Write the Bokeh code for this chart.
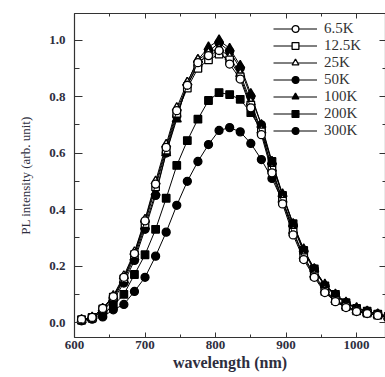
from bokeh.plotting import figure
from bokeh.models import Range1d, LinearAxis, SingleIntervalTicker, Legend, LegendItem, NumeralTickFormatter, ColumnDataSource
from bokeh.embed import file_html
from bokeh.resources import INLINE

wavelength = [610, 625, 640, 655, 670, 685, 700, 715, 730, 745, 760, 775, 790, 805, 820,
              835, 850, 865, 880, 895, 910, 925, 940, 955, 970, 985, 1000, 1015, 1030, 1045]

pl_6_5K = [0.011, 0.018, 0.05, 0.092, 0.16, 0.244, 0.36, 0.49, 0.62, 0.75, 0.84, 0.92, 0.945, 0.963, 0.915,
           0.862, 0.76, 0.665, 0.53, 0.42, 0.31, 0.223, 0.16, 0.106, 0.074, 0.053, 0.039, 0.032, 0.025, 0.018]
pl_12_5K = [0.01, 0.018, 0.048, 0.09, 0.155, 0.24, 0.35, 0.48, 0.61, 0.74, 0.83, 0.9, 0.93, 0.95, 0.93,
            0.87, 0.77, 0.675, 0.54, 0.43, 0.32, 0.23, 0.165, 0.11, 0.078, 0.056, 0.041, 0.033, 0.026, 0.019]
pl_25K = [0.01, 0.019, 0.05, 0.095, 0.165, 0.25, 0.365, 0.5, 0.63, 0.76, 0.85, 0.93, 0.955, 0.97, 0.94,
          0.88, 0.78, 0.68, 0.545, 0.435, 0.325, 0.235, 0.17, 0.115, 0.08, 0.058, 0.043, 0.034, 0.027, 0.02]
pl_50K = [0.008, 0.015, 0.04, 0.08, 0.14, 0.22, 0.33, 0.45, 0.6, 0.73, 0.84, 0.91, 0.96, 0.99, 0.96,
          0.9, 0.8, 0.7, 0.56, 0.45, 0.345, 0.255, 0.19, 0.13, 0.1, 0.07, 0.05, 0.04, 0.03, 0.022]
pl_100K = [0.008, 0.016, 0.042, 0.085, 0.15, 0.23, 0.34, 0.46, 0.6, 0.72, 0.85, 0.93, 0.975, 1.0, 0.97,
           0.91, 0.81, 0.7, 0.57, 0.455, 0.35, 0.26, 0.19, 0.135, 0.1, 0.072, 0.052, 0.04, 0.03, 0.022]
pl_200K = [0.008, 0.015, 0.03, 0.06, 0.1, 0.17, 0.24, 0.33, 0.44, 0.556, 0.644, 0.72, 0.786, 0.814, 0.807,
           0.79, 0.743, 0.68, 0.57, 0.45, 0.35, 0.255, 0.19, 0.13, 0.1, 0.07, 0.05, 0.04, 0.03, 0.022]
pl_300K = [0.006, 0.012, 0.02, 0.045, 0.064, 0.11, 0.16, 0.235, 0.32, 0.415, 0.5, 0.57, 0.63, 0.68, 0.69,
           0.675, 0.634, 0.577, 0.51, 0.43, 0.34, 0.25, 0.185, 0.13, 0.095, 0.068, 0.05, 0.038, 0.03, 0.022]

labels = ["6.5K", "12.5K", "25K", "50K", "100K", "200K", "300K"]
series = [pl_6_5K, pl_12_5K, pl_25K, pl_50K, pl_100K, pl_200K, pl_300K]
markers = ["circle", "square", "triangle", "circle", "triangle", "square", "circle"]
filled = [False, False, False, True, True, True, True]
msizes = [8, 7.5, 9, 8, 9, 7.5, 8]

AX = "#333"
TXT = "#2e2e3e"
SERIF = "Liberation Serif"

p = figure(width=385, height=377, output_backend="svg", toolbar_location=None,
           x_range=Range1d(600, 1041), y_range=Range1d(-0.053, 1.094),
           min_border_left=74, min_border_right=0, min_border_top=13, min_border_bottom=40)
p.outline_line_color = None
p.grid.visible = False
p.background_fill_color = "white"

xa = p.xaxis[0]
xa.ticker = SingleIntervalTicker(interval=100, num_minor_ticks=2)
xa.axis_label = "wavelength (nm)"
ya = p.yaxis[0]
ya.ticker = SingleIntervalTicker(interval=0.2, num_minor_ticks=2)
ya.formatter = NumeralTickFormatter(format="0.0")
ya.axis_label = "PL intensity (arb. unit)"

for ax in (xa, ya):
    ax.axis_line_color = AX
    ax.axis_line_width = 1.2
    ax.major_tick_line_color = AX
    ax.minor_tick_line_color = AX
    ax.major_tick_out = 0
    ax.minor_tick_out = 0
    ax.major_label_text_font = SERIF
    ax.major_label_text_font_style = "bold"
    ax.major_label_text_font_size = "13px"
    ax.major_label_text_color = TXT
    ax.axis_label_text_font = SERIF
    ax.axis_label_text_color = TXT

xa.major_tick_in = 5
xa.minor_tick_in = 3
xa.major_label_standoff = 3
xa.axis_label_standoff = 2
xa.axis_label_text_font_style = "bold"
xa.axis_label_text_font_size = "16px"

ya.major_tick_in = 8
ya.minor_tick_in = 5
ya.major_label_standoff = 9
ya.axis_label_standoff = 13
ya.axis_label_text_font_style = "normal"
ya.axis_label_text_font_size = "13px"

top = LinearAxis(ticker=SingleIntervalTicker(interval=100, num_minor_ticks=2),
                 major_label_text_alpha=0, major_label_text_font_size="1px", major_label_standoff=0,
                 major_tick_out=0, minor_tick_out=0, major_tick_in=5, minor_tick_in=3,
                 axis_line_color=AX, axis_line_width=1.2, major_tick_line_color=AX, minor_tick_line_color=AX)
p.add_layout(top, "above")
right = LinearAxis(ticker=SingleIntervalTicker(interval=0.2, num_minor_ticks=2),
                   major_label_text_alpha=0, major_label_text_font_size="1px", major_label_standoff=0,
                   major_tick_out=0, minor_tick_out=0, major_tick_in=6, minor_tick_in=3,
                   axis_line_color=AX, axis_line_width=1.2, major_tick_line_color=AX, minor_tick_line_color=AX)
p.add_layout(right, "right")

items = {}
for i in reversed(range(len(series))):
    src = ColumnDataSource(dict(x=wavelength, y=series[i]))
    ln = p.line("x", "y", source=src, line_color="black", line_width=1)
    sc = p.scatter("x", "y", source=src, marker=markers[i], size=msizes[i],
                   fill_color="black" if filled[i] else "white",
                   line_color="black", line_width=1.3)
    items[i] = [ln, sc]

legend = Legend(items=[LegendItem(label=labels[i], renderers=items[i]) for i in range(len(series))],
                location=(199, 198), padding=0, margin=0, spacing=0,
                glyph_width=44, glyph_height=17, label_height=17, label_standoff=7,
                label_text_font=SERIF, label_text_font_size="15px", label_text_color="#333",
                border_line_color=None, background_fill_alpha=0)
p.add_layout(legend, "center")

open("out.html", "w").write(file_html(p, INLINE))
